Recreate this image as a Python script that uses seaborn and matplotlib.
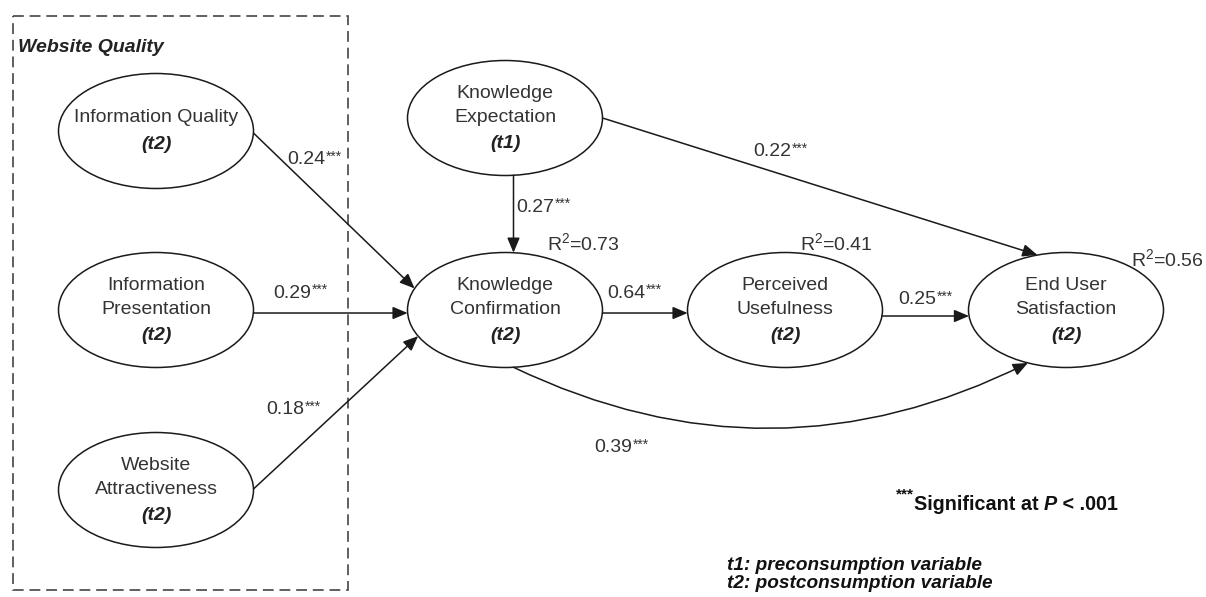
import numpy as np
import matplotlib.pyplot as plt
import seaborn as sns
from matplotlib.patches import Ellipse, FancyArrowPatch, Rectangle, ArrowStyle

# constructs of the model
node_ids = ["IQ", "IP", "WA", "KE", "KC", "PU", "EUS"]
node_lines = [
    ["Information Quality"],
    ["Information", "Presentation"],
    ["Website", "Attractiveness"],
    ["Knowledge", "Expectation"],
    ["Knowledge", "Confirmation"],
    ["Perceived", "Usefulness"],
    ["End User", "Satisfaction"],
]
node_time = ["t2", "t2", "t2", "t1", "t2", "t2", "t2"]

# structural paths and their coefficients
path_from = ["IQ", "IP", "WA", "KE", "KE", "KC", "PU", "KC"]
path_to = ["KC", "KC", "KC", "KC", "EUS", "PU", "EUS", "EUS"]
path_coef = [0.24, 0.29, 0.18, 0.27, 0.22, 0.64, 0.25, 0.39]
path_sig = ["***"] * 8

# explained variance
r2_nodes = ["KC", "PU", "EUS"]
r2_values = [0.73, 0.41, 0.56]

# ---- layout (pixel space, y down) ----
node_xy = {"IQ": (156, 131), "IP": (156, 310), "WA": (156, 490),
           "KE": (505, 118), "KC": (505, 310), "PU": (785, 310),
           "EUS": (1066, 310)}
node_w, node_h = 195, 115
# (start angle, end angle, curvature) on the ellipse rims
path_geom = [(2, 202, 0), (3, 177, 0), (-1, 153, 0), (85, 275, 0),
             (0, 253, 0), (3, 177, 0), (6, 174, 0), (85, 113, 0.245)]
label_xy = [(287, 160), (273, 293), (266, 410), (516, 207),
            (753, 152), (607, 293), (898, 300), (594, 448)]
r2_xy = {"KC": (547, 243), "PU": (800, 243), "EUS": (1131, 259)}

sns.set_theme(style="white")
plt.rcParams["font.family"] = ["Liberation Sans", "DejaVu Sans"]
plt.rcParams["mathtext.fontset"] = "custom"
plt.rcParams["mathtext.rm"] = "Liberation Sans"
plt.rcParams["mathtext.it"] = "Liberation Sans:italic"
plt.rcParams["mathtext.bf"] = "Liberation Sans:bold"

FS = 14
TXT = "#333333"
LINE = "#1a1a1a"

fig = plt.figure(figsize=(12.06, 5.97), dpi=100)
ax = fig.add_axes([0, 0, 1, 1])
ax.set_xlim(0, 1206)
ax.set_ylim(597, 0)
ax.axis("off")


def rim(node, deg):
    cx, cy = node_xy[node]
    t = np.deg2rad(deg)
    return cx + node_w / 2 * np.cos(t), cy + node_h / 2 * np.sin(t)


def stars(prev, sig, size, **kw):
    # small raised asterisks right after a text
    return ax.annotate(sig, xy=(1, 1), xycoords=prev, xytext=(0.5, 1),
                       textcoords="offset points", ha="left", va="top",
                       fontsize=size, **kw)


# website quality group
ax.add_patch(Rectangle((13, 16), 335, 574, fill=False, ec="#444444",
                       lw=1.2, ls=(0, (6.5, 3.5))))
ax.text(18, 47, "Website Quality", fontsize=FS, fontweight="bold",
        fontstyle="italic", color="#222222", ha="left", va="center")

# ellipses
for nid, lines, tm in zip(node_ids, node_lines, node_time):
    cx, cy = node_xy[nid]
    ax.add_patch(Ellipse((cx, cy), node_w, node_h, fill=False, ec=LINE, lw=1.1))
    rows = lines + [f"({tm})"]
    gap = 27 if len(rows) == 2 else 25
    y0 = cy - gap * (len(rows) - 1) / 2
    for i, r in enumerate(rows):
        last = i == len(rows) - 1
        ax.text(cx, y0 + i * gap, r, fontsize=FS, ha="center", va="center",
                color="#222222" if last else TXT,
                fontweight="bold" if last else "normal",
                fontstyle="italic" if last else "normal")

# paths
style = ArrowStyle("-|>", head_length=0.9, head_width=0.38)
for src, dst, (a0, a1, rad) in zip(path_from, path_to, path_geom):
    arr = FancyArrowPatch(rim(src, a0), rim(dst, a1), arrowstyle=style,
                          mutation_scale=10, color=LINE, lw=1.1,
                          shrinkA=0, shrinkB=0,
                          connectionstyle=f"arc3,rad={rad}")
    ax.add_patch(arr)

for coef, sig, (lx, ly) in zip(path_coef, path_sig, label_xy):
    num = ax.text(lx, ly, f"{coef:.2f}", fontsize=FS, color=TXT,
                  ha="left", va="center")
    stars(num, sig, 10, color=TXT)

for nid, val in zip(r2_nodes, r2_values):
    lx, ly = r2_xy[nid]
    ax.text(lx, ly, "R$^{2}$" + f"={val:.2f}", fontsize=FS, color=TXT,
            ha="left", va="center")

# notes
t = ax.text(896, 501, "***", fontsize=11, fontweight="bold",
            color="#111111", ha="left", va="bottom")
base = ax.annotate("Significant at ", xy=(1, 0), xycoords=t,
                   xytext=(0, -9), textcoords="offset points",
                   va="bottom", ha="left", fontsize=14.2, fontweight="bold",
                   color="#111111")
prev = base
for s, st in [("P", "italic"), (" < .001", "normal")]:
    prev = ax.annotate(s, xy=(1, 0), xycoords=prev, va="bottom", ha="left",
                       fontsize=14.2, fontweight="bold", fontstyle=st,
                       color="#111111")

ax.text(727, 565, "t1: preconsumption variable", fontsize=13.7,
        fontweight="bold", fontstyle="italic", color="#111111", va="center")
ax.text(727, 583, "t2: postconsumption variable", fontsize=13.7,
        fontweight="bold", fontstyle="italic", color="#111111", va="center")

fig.savefig("out.png", dpi=100)
